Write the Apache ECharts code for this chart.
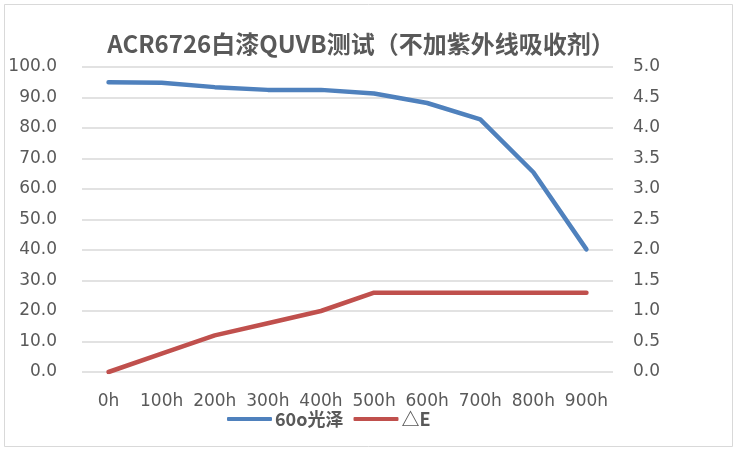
<!DOCTYPE html>
<html>
<head>
<meta charset="utf-8">
<script src="https://cdn.jsdelivr.net/npm/echarts@6/dist/echarts.min.js"></script>
<style>
html,body{margin:0;padding:0;background:#fff;}
#c{width:738px;height:452px;}
</style>
</head>
<body>
<div id="c"></div>
<script>
const categories = ['0h','100h','200h','300h','400h','500h','600h','700h','800h','900h'];
const gloss = [95.0, 94.8, 93.4, 92.5, 92.5, 91.3, 88.2, 82.8, 65.5, 40.2];
const deltaE = [0, 0.3, 0.6, 0.8, 1.0, 1.3, 1.3, 1.3, 1.3, 1.3];
const leftTicks = {min: 0, max: 100, interval: 10};
const rightTicks = {min: 0, max: 5, interval: 0.5};

const chart = echarts.init(document.getElementById('c'));
const txt = '#595959';
const numFont = 'DejaVu Sans';
chart.setOption({
  backgroundColor: '#fff',
  animation: false,
  title: {
    text: 'ACR6726白漆QUVB测试（不加紫外线吸收剂）',
    left: 356, top: 27, textAlign: 'center',
    textStyle: {fontFamily: 'Noto Sans CJK SC', fontWeight: 'bold', fontSize: 24, color: txt}
  },
  graphic: [{
    type: 'rect', silent: true, z: -1,
    shape: {x: 4.5, y: 4.5, width: 728, height: 442},
    style: {fill: 'none', stroke: '#d9d9d9', lineWidth: 1}
  }],
  legend: {
    bottom: 19, left: 222,
    itemWidth: 45, itemHeight: 4, itemGap: 10,
    icon: 'roundRect',
    textStyle: {fontFamily: 'Noto Sans CJK SC', fontWeight: 'bold', fontSize: 18, color: txt, padding: [0,0,0,-2]},
    data: ['60o光泽', '△E']
  },
  grid: {left: 82, right: 125, top: 67, bottom: 80},
  xAxis: {
    type: 'category', data: categories, boundaryGap: true,
    axisLine: {show: false}, axisTick: {show: false},
    axisLabel: {color: txt, fontSize: 17, fontFamily: numFont, margin: 21, interval: 0}
  },
  yAxis: [{
    type: 'value', min: leftTicks.min, max: leftTicks.max, interval: leftTicks.interval,
    axisLine: {show: false}, axisTick: {show: false},
    splitLine: {lineStyle: {color: '#d9d9d9', width: 1.5}},
    axisLabel: {color: txt, fontSize: 17, fontFamily: numFont, margin: 25, formatter: v => v.toFixed(1)}
  }, {
    type: 'value', min: rightTicks.min, max: rightTicks.max, interval: rightTicks.interval,
    axisLine: {show: false}, axisTick: {show: false}, splitLine: {show: false},
    axisLabel: {color: txt, fontSize: 17, fontFamily: numFont, margin: 20, formatter: v => v.toFixed(1)}
  }],
  series: [{
    name: '60o光泽', type: 'line', data: gloss, yAxisIndex: 0,
    symbol: 'none', lineStyle: {color: '#4f81bd', width: 4.5, cap: 'round', join: 'round'},
    itemStyle: {color: '#4f81bd'}
  }, {
    name: '△E', type: 'line', data: deltaE, yAxisIndex: 1,
    symbol: 'none', lineStyle: {color: '#c0504d', width: 4.5, cap: 'round', join: 'round'},
    itemStyle: {color: '#c0504d'}
  }]
});
</script>
</body>
</html>
